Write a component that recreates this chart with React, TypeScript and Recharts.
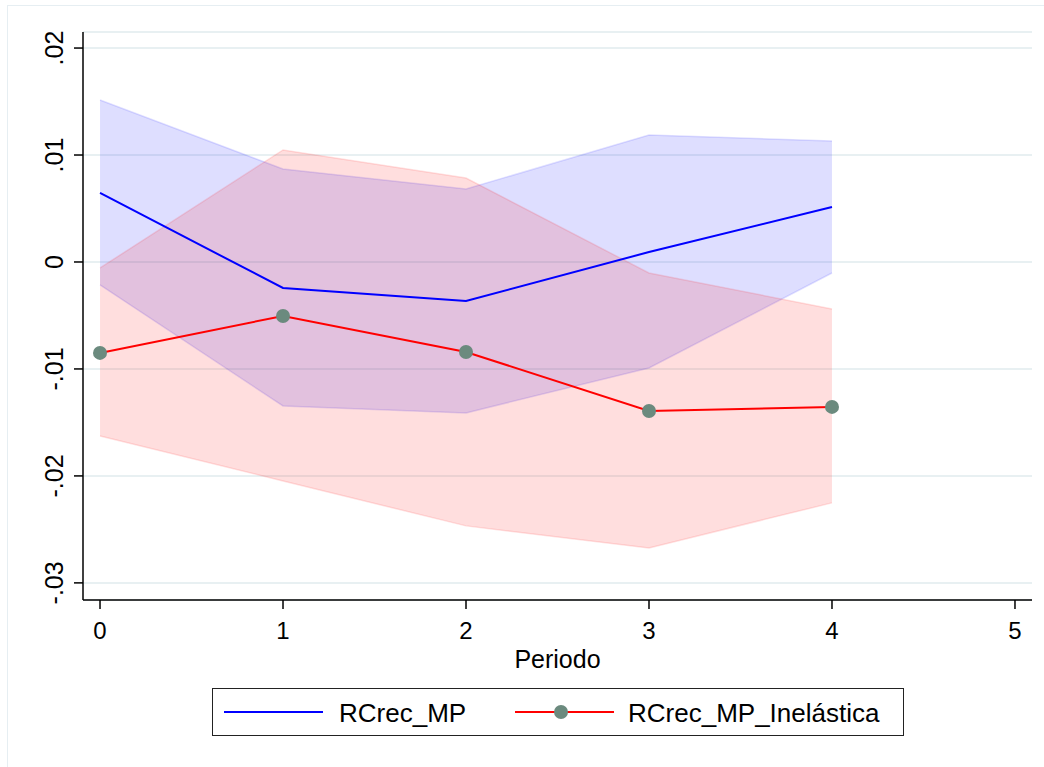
import React from "react";
import { Area, CartesianGrid, ComposedChart, Line, XAxis, YAxis } from "recharts";

// valores
const periods = [0, 1, 2, 3, 4];
const mp = [0.00645, -0.00243, -0.00364, 0.00093, 0.00514];
const mpUpper = [0.01514, 0.00869, 0.00682, 0.01187, 0.01131];
const mpLower = [-0.00215, -0.01346, -0.01411, -0.00991, -0.00103];
const inelastica = [-0.0085, -0.00505, -0.00841, -0.01393, -0.01355];
const inelasticaUpper = [-0.00056, 0.01047, 0.00785, -0.00103, -0.00439];
const inelasticaLower = [-0.01626, -0.02047, -0.02467, -0.02673, -0.02252];
const xTicks = [0, 1, 2, 3, 4, 5];
const yTicks = [-0.03, -0.02, -0.01, 0, 0.01, 0.02];

const FONT = "'Liberation Sans', Arial, sans-serif";
const COLORS = {
  mp: "#0000ff",
  ine: "#ff0000",
  marker: "#6b8a7e",
  grid: "#e8f0f2",
} as const;

const data = periods.map((p, i) => ({
  p,
  mp: mp[i],
  mpBand: [mpLower[i], mpUpper[i]],
  ine: inelastica[i],
  ineBand: [inelasticaLower[i], inelasticaUpper[i]],
}));

const fmtY = (v: number) => (v === 0 ? "0" : v.toFixed(2).replace("0.", "."));

const YTick = (props: any) => {
  const { x, y, payload } = props;
  const tx = x - 11;
  return (
    <text
      x={tx}
      y={y}
      transform={`rotate(-90, ${tx}, ${y})`}
      textAnchor="middle"
      fontSize={25}
      fontFamily={FONT}
      fill="#000"
    >
      {fmtY(payload.value)}
    </text>
  );
};

const LegendBox = () => (
  <div
    style={{
      position: "absolute",
      left: 212,
      top: 688,
      width: 692,
      height: 48,
      border: "1.5px solid #222",
      boxSizing: "border-box",
    }}
  >
    <svg width={690} height={46} style={{ position: "absolute", left: 0, top: 0 }}>
      <line x1={11} x2={110} y1={23} y2={23} stroke={COLORS.mp} strokeWidth={2} />
      <text x={126} y={33} fontSize={26} fontFamily={FONT}>RCrec_MP</text>
      <line x1={302} x2={401} y1={23} y2={23} stroke={COLORS.ine} strokeWidth={2} />
      <circle cx={348} cy={23} r={7} fill={COLORS.marker} />
      <text x={415} y={33} fontSize={26} fontFamily={FONT}>RCrec_MP_Inelástica</text>
    </svg>
  </div>
);

export default function App() {
  return (
    <div
      style={{
        position: "absolute",
        left: 0,
        top: 0,
        width: 1044,
        height: 767,
        background: "#fff",
        overflow: "hidden",
      }}
    >
      <div
        style={{
          position: "absolute",
          left: 7,
          top: 5,
          width: 1060,
          height: 780,
          borderLeft: "1.5px solid #e6eef2",
          borderTop: "1.5px solid #e6eef2",
        }}
      />
      <ComposedChart
        width={1044}
        height={767}
        data={data}
        margin={{ top: 32, right: 12, bottom: 127, left: 0 }}
      >
        <CartesianGrid horizontal vertical={false} stroke={COLORS.grid} strokeWidth={2} />
        <XAxis
          dataKey="p"
          type="number"
          domain={[-0.093, 5.093]}
          ticks={xTicks}
          interval={0}
          height={40}
          tickSize={9}
          tickMargin={13}
          stroke="#000"
          strokeWidth={1.5}
          tick={{ fontSize: 24, fontFamily: FONT, fill: "#000" }}
          label={{ value: "Periodo", position: "bottom", offset: 10, fontSize: 25, fontFamily: FONT, fill: "#000" }}
        />
        <YAxis
          type="number"
          domain={[-0.0316, 0.0215]}
          ticks={yTicks}
          interval={0}
          width={83}
          tickSize={9}
          tickMargin={0}
          stroke="#000"
          strokeWidth={1.5}
          tick={<YTick />}
        />
        <Area
          type="linear"
          dataKey="mpBand"
          fill={COLORS.mp}
          fillOpacity={0.13}
          stroke={COLORS.mp}
          strokeOpacity={0.12}
          strokeWidth={1.5}
          isAnimationActive={false}
          dot={false}
          activeDot={false}
        />
        <Area
          type="linear"
          dataKey="ineBand"
          fill={COLORS.ine}
          fillOpacity={0.13}
          stroke={COLORS.ine}
          strokeOpacity={0.12}
          strokeWidth={1.5}
          isAnimationActive={false}
          dot={false}
          activeDot={false}
        />
        <Line
          type="linear"
          dataKey="mp"
          stroke={COLORS.mp}
          strokeWidth={2}
          dot={false}
          activeDot={false}
          isAnimationActive={false}
        />
        <Line
          type="linear"
          dataKey="ine"
          stroke={COLORS.ine}
          strokeWidth={2}
          dot={{ r: 7, fill: COLORS.marker, stroke: "none" }}
          activeDot={false}
          isAnimationActive={false}
        />
      </ComposedChart>
      <LegendBox />
    </div>
  );
}
